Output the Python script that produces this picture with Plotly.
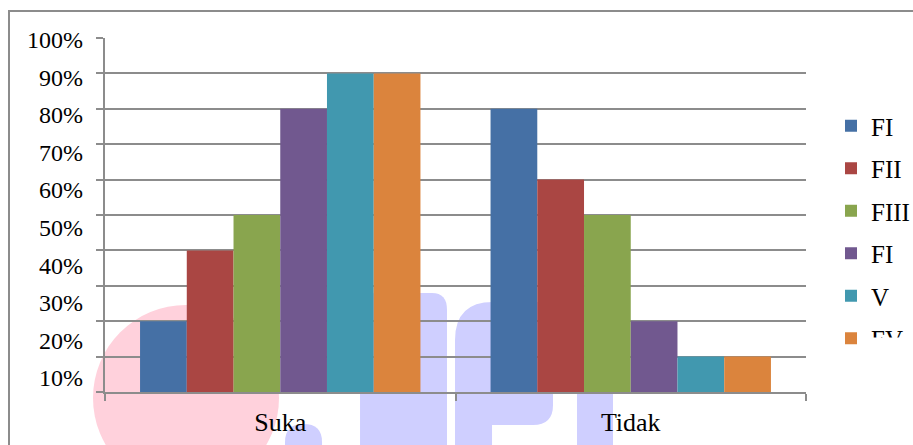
import plotly.graph_objects as go

# ---- data -------------------------------------------------------------
categories = ["Suka", "Tidak"]
legend_labels = ["FI", "FII", "FIII", "FI", "V", "FV"]
series_values = [
    [0.20, 0.80],
    [0.40, 0.60],
    [0.50, 0.50],
    [0.80, 0.20],
    [0.90, 0.10],
    [0.90, 0.10],
]
bar_colors = ["#4570A5", "#AA4643", "#89A54E", "#71588F", "#4198AF", "#DB843D"]
tick_values = [0.1, 0.2, 0.3, 0.4, 0.5, 0.6, 0.7, 0.8, 0.9, 1.0]
tick_labels = ["10%", "20%", "30%", "40%", "50%", "60%", "70%", "80%", "90%", "100%"]

# ---- geometry ---------------------------------------------------------
W, H = 913, 445
ML, MR, MT, MB = 105, 107, 38, 53
PW, PH = W - ML - MR, H - MT - MB
FONT = "Liberation Serif"
GRID = "#8C8C8C"


def px(x):
    """pixel x -> paper x"""
    return (x - ML) / PW


def py(y):
    """pixel y -> paper y"""
    return (H - MB - y) / PH


fig = go.Figure()
for i, (name, vals, col) in enumerate(zip(legend_labels, series_values, bar_colors)):
    fig.add_trace(go.Bar(
        x=categories, y=vals, name=name, marker=dict(color=col, line=dict(width=0)),
        legendgroup=f"g{i}", hoverinfo="skip",
    ))

# invisible helper trace that carries the offset percentage labels
fig.add_trace(go.Scatter(x=categories, y=[0.5, 0.5], yaxis="y2", mode="markers",
                         marker=dict(opacity=0), showlegend=False, hoverinfo="skip"))

shapes = []
# faded logo watermark behind the chart
shapes.append(dict(type="circle", xref="paper", yref="paper", layer="below",
                   x0=px(93), x1=px(279), y0=py(491), y1=py(305),
                   fillcolor="#FFD1DC", line=dict(width=0)))
LAV = "#CFCFFF"


def pth(points):
    s = ""
    for cmd, pts in points:
        s += cmd + " ".join(f"{px(a):.4f},{py(b):.4f}" for a, b in pts) + " "
    return s + "Z"


shapes.append(dict(type="path", xref="paper", yref="paper", layer="below",
                   path=pth([("M", [(285, 460)]), ("L", [(285, 442)]),
                             ("Q", [(285, 424), (303.5, 424)]),
                             ("Q", [(322, 424), (322, 442)]), ("L", [(322, 460)])]),
                   fillcolor=LAV, line=dict(width=0)))
shapes.append(dict(type="path", xref="paper", yref="paper", layer="below",
                   path=pth([("M", [(360, 460)]), ("L", [(360, 310)]),
                             ("Q", [(360, 293), (377, 293)]), ("L", [(432, 293)]),
                             ("Q", [(447, 293), (447, 310)]), ("L", [(447, 460)])]),
                   fillcolor=LAV, line=dict(width=0)))
shapes.append(dict(type="path", xref="paper", yref="paper", layer="below",
                   path=pth([("M", [(455, 460)]), ("L", [(455, 340)]),
                             ("Q", [(455, 302), (493, 302)]), ("L", [(553, 302)]),
                             ("L", [(553, 405)]), ("Q", [(553, 425), (533, 425)]),
                             ("L", [(492, 425)]), ("L", [(492, 460)])]),
                   fillcolor=LAV, line=dict(width=0)))
shapes.append(dict(type="rect", xref="paper", yref="paper", layer="below",
                   x0=px(577), x1=px(613), y0=py(460), y1=py(300),
                   fillcolor=LAV, line=dict(width=0)))
# outer chart frame
shapes.append(dict(type="rect", xref="paper", yref="paper", layer="below",
                   x0=px(9), x1=px(930), y0=py(460), y1=py(11),
                   fillcolor="rgba(0,0,0,0)", line=dict(color=GRID, width=2)))

fig.update_layout(
    width=W, height=H,
    margin=dict(l=ML, r=MR, t=MT, b=MB, pad=0, autoexpand=False),
    paper_bgcolor="white", plot_bgcolor="rgba(0,0,0,0)",
    barmode="group", bargap=0.2, bargroupgap=0,
    font=dict(family=FONT, color="black"),
    shapes=shapes,
    showlegend=True,
    legend=dict(x=px(831), y=py(103), xanchor="left", yanchor="top",
                font=dict(family=FONT, size=25, color="black"),
                bgcolor="rgba(0,0,0,0)", borderwidth=0, tracegroupgap=7),
    xaxis=dict(
        type="category", showline=True, linecolor=GRID, linewidth=2,
        ticks="outside", tickson="boundaries", ticklen=7, tickwidth=2, tickcolor=GRID,
        showgrid=False, zeroline=False,
        tickfont=dict(family=FONT, size=26, color="black"), ticklabelstandoff=6,
    ),
    yaxis=dict(
        range=[0, 1], tickvals=[0] + tick_values, showticklabels=False,
        ticks="outside", ticklen=7, tickwidth=2, tickcolor=GRID,
        showgrid=True, gridcolor=GRID, gridwidth=2,
        showline=True, linecolor=GRID, linewidth=2, zeroline=False,
    ),
    yaxis2=dict(
        overlaying="y", side="left", range=[0.0627, 1.0045],
        tickvals=tick_values, ticktext=tick_labels, ticks="",
        showgrid=False, showline=False, zeroline=False,
        tickfont=dict(family=FONT, size=24, color="black"), ticklabelstandoff=21,
    ),
    # the legend box cuts off the last label part-way down
    annotations=[dict(xref="paper", yref="paper", x=px(861), y=py(337),
                      xanchor="left", yanchor="top", text=" ", showarrow=False,
                      width=52, height=60, bgcolor="white", borderpad=0)],
)

fig.write_html("out.html")
